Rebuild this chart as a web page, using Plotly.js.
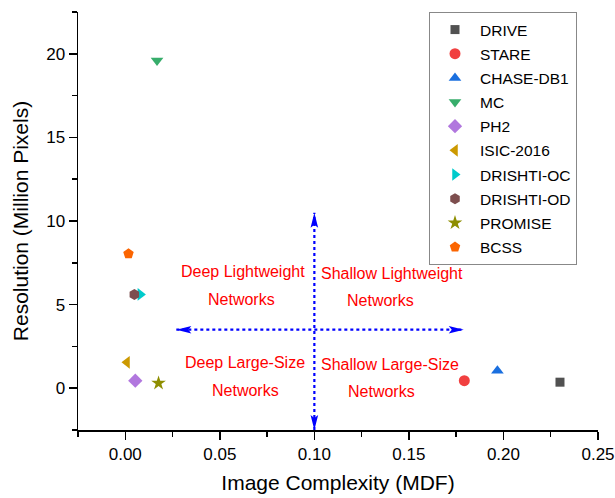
<!DOCTYPE html>
<html>
<head>
<meta charset="utf-8">
<script src="https://cdn.plot.ly/plotly-3.0.1.min.js"></script>
<style>html,body{margin:0;padding:0;background:#fff;}#chart{width:615px;height:498px;}</style>
</head>
<body>
<div id="chart"></div>
<script>
// ---- data ----
const datasets = ["DRIVE","STARE","CHASE-DB1","MC","PH2","ISIC-2016","DRISHTI-OC","DRISHTI-OD","PROMISE","BCSS"];
const complexity = [0.2299, 0.1793, 0.1968, 0.0168, 0.0053, 0.0009, 0.0080, 0.0048, 0.0176, 0.0017];
const resolution = [0.36, 0.45, 1.05, 19.6, 0.45, 1.55, 5.61, 5.61, 0.30, 8.04];

// quadrant divider arrows (data coordinates: start = tail tip, end = head tip)
const vArrowX = [0.10, 0.10];
const vArrowY = [-2.5, 10.5];
const hArrowX = [0.027, 0.179];
const hArrowY = [3.5, 3.5];

// quadrant labels
const quadText = ["Deep Lightweight","Networks","Shallow Lightweight","Networks",
                  "Deep Large-Size","Networks","Shallow Large-Size","Networks"];
const quadX = [0.0622, 0.0615, 0.1409, 0.1350, 0.0633, 0.0637, 0.1400, 0.1356];
const quadY = [6.97, 5.33, 6.89, 5.27, 1.51, -0.11, 1.39, -0.21];

// ---- styles ----
const symbols = ["square","circle","triangle-up","triangle-down","diamond","triangle-left","triangle-right","hexagon","star","pentagon"];
const colors = ["#515151","#F14040","#1A6FDF","#37AD6B","#B177DE","#CC9900","#00CBCC","#7D4E4E","#8E8E00","#FB6501"];
const sizes = [9,11,11,11,11,11,11,11,11,11];
const FONT = "Liberation Sans, Arial, sans-serif";

const XR = [-0.025, 0.25], YR = [-2.5, 22.5];
const M = {l: 78, r: 17, t: 12, b: 68};
const W = 615, H = 498;
const xPerPx = (XR[1] - XR[0]) / (W - M.l - M.r);
const yPerPx = (YR[1] - YR[0]) / (H - M.t - M.b);
const HEAD_LEN = 15, HEAD_HALF = 3.8, HEAD_NOTCH = 3;

// arrowhead path, dir = unit vector in pixel space (dx right, dy up)
function headPath(tx, ty, dx, dy) {
  const px = (u, v) => [tx + u * xPerPx, ty + v * yPerPx];
  // back along direction
  const bx = -dx * HEAD_LEN, by = -dy * HEAD_LEN;
  const nx = -dy, ny = dx; // normal
  const p1 = px(bx + nx * HEAD_HALF, by + ny * HEAD_HALF);
  const p2 = px(-dx * (HEAD_LEN - HEAD_NOTCH), -dy * (HEAD_LEN - HEAD_NOTCH));
  const p3 = px(bx - nx * HEAD_HALF, by - ny * HEAD_HALF);
  return `M${tx},${ty} L${p1[0]},${p1[1]} L${p2[0]},${p2[1]} L${p3[0]},${p3[1]} Z`;
}

const traces = [];
traces.push({x: vArrowX, y: vArrowY, mode: "lines", type: "scatter", showlegend: false, hoverinfo: "skip",
  line: {color: "#0000FF", width: 2.2, dash: "dot"}});
traces.push({x: hArrowX, y: hArrowY, mode: "lines", type: "scatter", showlegend: false, hoverinfo: "skip",
  line: {color: "#0000FF", width: 2.2, dash: "dot"}});

datasets.forEach((n, i) => {
  traces.push({
    x: [complexity[i]], y: [resolution[i]], name: n, mode: "markers", type: "scatter",
    legendgroup: n,
    marker: {symbol: symbols[i], color: colors[i], size: sizes[i], line: {width: 0}}
  });
});

const shapeStyle = {type: "path", xref: "x", yref: "y", fillcolor: "#0000FF", line: {width: 0}, layer: "above"};
const shapes = [
  Object.assign({path: headPath(vArrowX[1], vArrowY[1], 0, 1)}, shapeStyle),
  Object.assign({path: headPath(vArrowX[0], vArrowY[0], 0, -1)}, shapeStyle),
  Object.assign({path: headPath(hArrowX[1], hArrowY[1], 1, 0)}, shapeStyle),
  Object.assign({path: headPath(hArrowX[0], hArrowY[0], -1, 0)}, shapeStyle)
];

const annotations = quadText.map((t, i) => ({
  x: quadX[i], y: quadY[i], xref: "x", yref: "y", text: t, showarrow: false,
  font: {family: FONT, size: 16, color: "#FF0000"}, xanchor: "center", yanchor: "middle"
}));

const layout = {
  width: W, height: H,
  margin: M,
  paper_bgcolor: "#fff", plot_bgcolor: "#fff",
  font: {family: FONT, color: "#000"},
  showlegend: true,
  legend: {x: 0.675, y: 1, xanchor: "left", yanchor: "top",
    bordercolor: "#888888", borderwidth: 1, bgcolor: "#fff",
    font: {family: FONT, size: 15.5, color: "#000"},
    itemwidth: 40, tracegroupgap: 1},
  xaxis: {
    range: XR, dtick: 0.05, tick0: 0, tickformat: ".2f",
    showgrid: false, zeroline: false, showline: true, linecolor: "#000", linewidth: 1.5,
    ticks: "outside", ticklen: 8, tickwidth: 1.5, tickcolor: "#000",
    tickfont: {family: FONT, size: 17, color: "#000"},
    minor: {dtick: 0.025, tick0: 0, ticks: "outside", ticklen: 5, tickwidth: 1.5, tickcolor: "#000"},
    title: {text: "Image Complexity (MDF)", font: {family: FONT, size: 21, color: "#000"}, standoff: 12}
  },
  yaxis: {
    range: YR, dtick: 5, tick0: 0,
    showgrid: false, zeroline: false, showline: true, linecolor: "#000", linewidth: 1.5,
    ticks: "outside", ticklen: 8, tickwidth: 1.5, tickcolor: "#000",
    tickfont: {family: FONT, size: 17, color: "#000"},
    minor: {dtick: 2.5, tick0: 0, ticks: "outside", ticklen: 5, tickwidth: 1.5, tickcolor: "#000"},
    title: {text: "Resolution (Million Pixels)", font: {family: FONT, size: 21, color: "#000"}, standoff: 12}
  },
  shapes: shapes,
  annotations: annotations
};

Plotly.newPlot("chart", traces, layout, {displayModeBar: false, staticPlot: true});
</script>
</body>
</html>
